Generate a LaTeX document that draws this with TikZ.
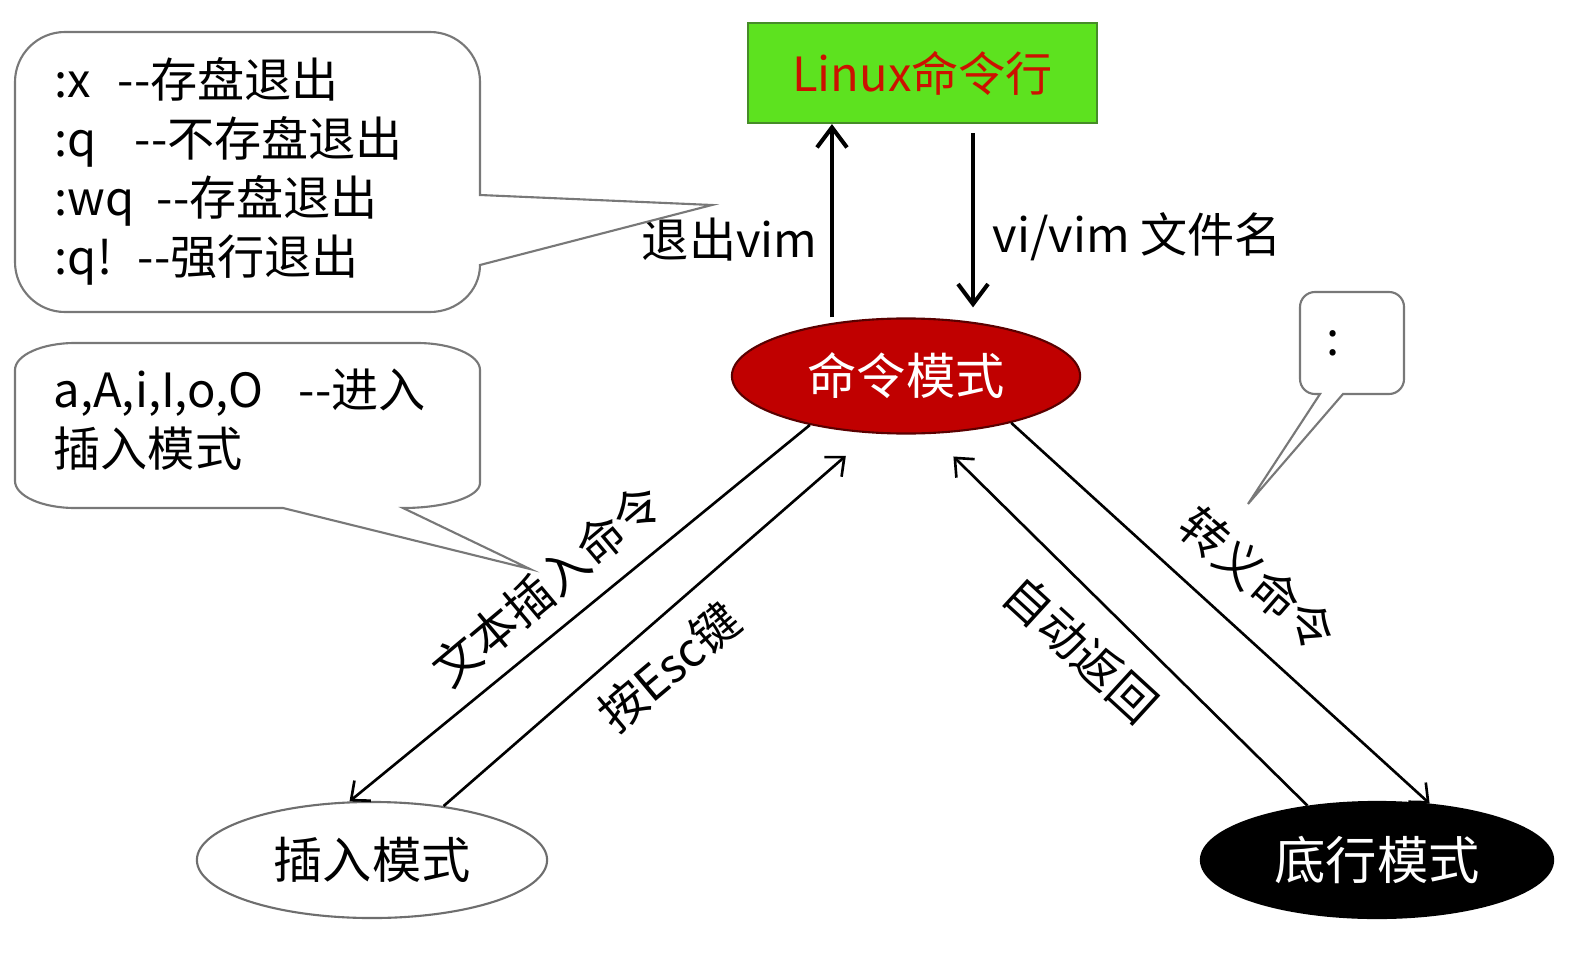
\documentclass[tikz,border=0pt]{standalone}
\usepackage{fontspec}
\setmainfont{Noto Sans CJK SC}
\usetikzlibrary{shapes.geometric,arrows.meta}
\definecolor{boxgreen}{RGB}{93,226,31}
\definecolor{boxedge}{RGB}{70,140,40}
\definecolor{boxtext}{RGB}{204,17,0}
\definecolor{cmdred}{RGB}{192,0,0}
\definecolor{cmdedge}{RGB}{90,0,0}
\definecolor{calloutgray}{RGB}{120,120,120}
\definecolor{insedge}{RGB}{110,110,110}
\begin{document}
\begin{tikzpicture}[x=0.01cm,y=-0.01cm,
  txt/.style={font=\fontsize{13.4pt}{16.8pt}\selectfont, inner sep=0pt},
  modeell/.style={ellipse, inner sep=0pt, line width=0.6pt, font=\fontsize{14pt}{16pt}\selectfont},
  thickarrow/.style={line width=1.15pt, -{Straight Barb[length=0.2cm,width=0.3cm]}},
  thinarrow/.style={line width=0.75pt, -{Straight Barb[length=0.15cm,width=0.26cm]}},
  callout/.style={draw=calloutgray, line width=0.6pt, fill=white}]
\useasboundingbox (0,0) rectangle (1582,979);
\fill[white] (0,0) rectangle (1582,979);

% nodes
\node[draw=boxedge, fill=boxgreen, line width=0.6pt, minimum width=3.49cm, minimum height=1.0cm, inner sep=0pt,
      text=boxtext, font=\fontsize{13.4pt}{16pt}\selectfont] (box) at (922.5,73) {Linux命令行};
\node[modeell, draw=cmdedge, fill=cmdred, text=white, minimum width=3.48cm, minimum height=1.15cm] (cmd) at (906,376) {命令模式};
\node[modeell, draw=insedge, fill=white, text=black, minimum width=3.5cm, minimum height=1.16cm] (ins) at (372,860) {插入模式};
\node[modeell, draw=black, fill=black, text=white, minimum width=3.52cm, minimum height=1.16cm,
      font=\fontsize{14.6pt}{16pt}\selectfont] (bot) at (1377,860) {底行模式};

% vertical connectors
\draw[thickarrow] ([xshift=-0.74cm]cmd.north) -- ([xshift=-0.74cm]cmd.north |- box.south);
\draw[thickarrow, shorten <=0.09cm, shorten >=0.10cm] ([xshift=0.67cm]cmd.north |- box.south) -- ([xshift=0.67cm]cmd.north);
\node[txt, anchor=east] (lexit) at (818,240) {退出vim};
\node[txt, anchor=west] (lopen) at (992,237) {vi/vim 文件名};

% diagonal connectors
\draw[thinarrow] (cmd.207.5) -- (ins.111.6);
\draw[thinarrow, shorten >=0.34cm] (ins.37.6) -- (cmd.239.3);
\draw[thinarrow, shorten >=0.32cm] (bot.142.4) -- (cmd.293.3);
\draw[thinarrow] (cmd.336.4) -- (bot.47);

\node[txt, rotate=40] (linsert) at (547,585) {文本插入命令};
\node[txt, rotate=40] (lesc) at (669,667) {按Esc键};
\node[txt, rotate=-42.5] (lauto) at (1081,649) {自动返回};
\node[txt, rotate=-41] (lescape) at (1258,579) {转义命令};

% callout 1
\draw[callout] (65,32) -- (430,32) .. controls (457.6,32) and (480,54.4) .. (480,82)
  -- (480,195) -- (712,205) -- (480,265)
  .. controls (480,291) and (457.6,312) .. (430,312) -- (65,312)
  .. controls (37.4,312) and (15,289.6) .. (15,262) -- (15,82)
  .. controls (15,54.4) and (37.4,32) .. (65,32) -- cycle;
\node[txt, anchor=west, align=left] (quitcmds) at (54,171.5)
  {\makebox[0.63cm][l]{:x}-{}-存盘退出\\
   \makebox[0.80cm][l]{:q}-{}-不存盘退出\\
   \makebox[1.02cm][l]{:wq}-{}-存盘退出\\
   \makebox[0.83cm][l]{:q!}-{}-强行退出};

% callout 2
\draw[callout] (75,343) -- (417,343) .. controls (451.8,343) and (480,355.1) .. (480,370)
  -- (480,483) .. controls (480,496.8) and (445.5,508) .. (403,508)
  -- (530,569) -- (283,508) -- (75,508)
  .. controls (41.9,508) and (15,495.9) .. (15,481) -- (15,370)
  .. controls (15,355.1) and (41.9,343) .. (75,343) -- cycle;
\node[txt, anchor=west, align=left] (insertcmds) at (53,419.5)
  {\makebox[2.45cm][l]{a,A,i,I,o,O}-{}-进入\\插入模式};

% callout 3
\draw[callout] (1315,292) -- (1389,292) .. controls (1397.3,292) and (1404,298.7) .. (1404,307)
  -- (1404,379) .. controls (1404,387.3) and (1397.3,394) .. (1389,394)
  -- (1343,394) -- (1248,504) -- (1320,394) -- (1315,394)
  .. controls (1306.7,394) and (1300,387.3) .. (1300,379) -- (1300,307)
  .. controls (1300,298.7) and (1306.7,292) .. (1315,292) -- cycle;
\node[txt] (colon) at (1333,343) {:};
\end{tikzpicture}
\end{document}
